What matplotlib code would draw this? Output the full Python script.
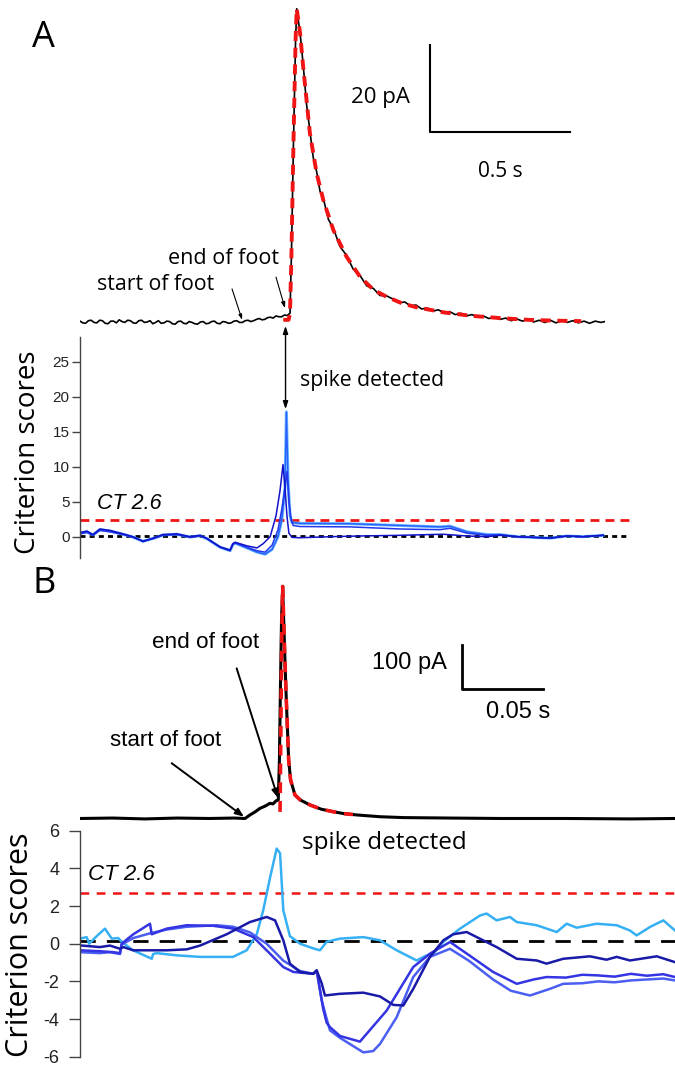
import matplotlib
matplotlib.use("Agg")
import matplotlib.pyplot as plt

plt.rcParams['font.family'] = ['Open Sans', 'DejaVu Sans']
plt.rcParams['axes.unicode_minus'] = False

# ---------------- Panel A : amperometric trace (s, pA) ----------------
t_a = [0.00, 0.01, 0.02, 0.03, 0.04, 0.05, 0.06, 0.07, 0.08, 0.09, 0.10, 0.11, 0.12,
       0.13, 0.14, 0.15, 0.16, 0.17, 0.18, 0.19, 0.20, 0.21, 0.22, 0.23, 0.24, 0.25,
       0.26, 0.27, 0.28, 0.29, 0.30, 0.31, 0.32, 0.33, 0.34, 0.35, 0.36, 0.37, 0.38,
       0.39, 0.40, 0.41, 0.42, 0.43, 0.44, 0.45, 0.46, 0.47, 0.48, 0.49, 0.50, 0.51,
       0.52, 0.53, 0.54, 0.55, 0.56, 0.57, 0.58, 0.59, 0.60, 0.61, 0.62, 0.63, 0.64,
       0.65, 0.66, 0.67, 0.68, 0.69, 0.70, 0.71, 0.72, 0.73, 0.74,
       0.75, 0.755, 0.762, 0.77, 0.774, 0.786, 0.797, 0.809, 0.821, 0.833, 0.845,
       0.857, 0.869, 0.887, 0.905, 0.928, 0.952, 0.976, 1.0, 1.024, 1.048, 1.071, 1.095,
       1.12, 1.14, 1.16, 1.18, 1.20, 1.22, 1.24, 1.26, 1.28, 1.30, 1.32, 1.34, 1.36,
       1.38, 1.40, 1.42, 1.44, 1.46, 1.48, 1.50, 1.52, 1.54, 1.56, 1.58, 1.60, 1.62,
       1.64, 1.66, 1.68, 1.70, 1.72, 1.74, 1.76, 1.78, 1.80, 1.82, 1.84, 1.86, 1.875]
i_a = [0.2, -0.2, -0.3, 0.3, 0.4, -0.1, -0.2, 0.4, 0.3, -0.3,
       -0.4, 0.2, 0.2, -0.2, 0.5, 0.1, -0.1, 0.4, 0.3, -0.2,
       -0.3, 0.3, 0.4, -0.1, 0.0, 0.3, -0.4, -0.1, 0.3, -0.3,
       -0.2, 0.2, 0.1, -0.4, -0.5, 0.1, 0.2, -0.3, -0.4, 0.1,
       -0.1, -0.4, -0.5, 0.0, 0.1, -0.4, -0.3, 0.1, 0.2, -0.3,
       -0.4, 0.1, 0.0, -0.3, -0.2, 0.2, 0.3, -0.1, -0.1, 0.3,
       0.4, 0.1, 0.3, 0.6, 0.8, 0.5, 0.6, 1.0, 1.1, 0.9,
       1.4, 1.2, 1.2, 1.6, 1.5,
       2.0, 15, 40, 65, 72, 66.4, 59.2, 50.1, 43.9, 37.8, 34.6, 30.1, 28.4, 23.6, 21.5,
       17.4, 15.3, 12.1, 10.7, 8.3, 7.7, 6.1, 6.0,
       5.2, 4.4, 4.6, 3.7, 3.9, 3.0, 3.2, 2.5, 2.8, 2.1, 2.4, 1.7, 2.0, 1.4, 1.7, 1.1,
       1.4, 0.8, 1.1, 0.6, 0.9, 0.3, 0.7, 0.2, 0.6, 0.0, 0.4, -0.1, 0.4, -0.2, 0.3, -0.1,
       0.3, -0.2, 0.2, -0.3, 0.2, -0.1, 0.1]
t_fit_a = [0.726, 0.745, 0.75, 0.755, 0.762, 0.77, 0.774, 0.786, 0.797, 0.821, 0.845,
           0.869, 0.905, 0.952, 1.0, 1.048, 1.095, 1.15, 1.2, 1.3, 1.4, 1.5, 1.6, 1.7, 1.79]
i_fit_a = [0.5, 0.5, 2.0, 15, 40, 65, 72, 66.4, 58.7, 43.4, 34.2, 28.0, 21.1, 15.0, 10.4,
           7.4, 5.8, 4.3, 3.4, 2.2, 1.4, 0.9, 0.5, 0.3, 0.2]

# Panel A : criterion scores
ts_a_dark = [0, 0.025, 0.046, 0.071, 0.107, 0.154, 0.189, 0.225, 0.261, 0.296, 0.346,
             0.393, 0.429, 0.454, 0.5, 0.536, 0.546, 0.554, 0.596, 0.632, 0.654, 0.679,
             0.7, 0.714, 0.725, 0.732, 0.739, 0.746, 0.757, 0.786, 0.893, 1.0, 1.143,
             1.296, 1.382, 1.454, 1.5, 1.561, 1.618, 1.679, 1.739, 1.796, 1.868]
cs_a_dark = [0.6, 0.8, 0.3, 1.1, 0.9, 0.4, 0.0, -0.7, -0.2, 0.3, 0.4, 0.0, 0.2, -0.25,
             -1.45, -1.9, -1.0, -0.8, -1.3, -1.6, -1.0, 0.0, 3.0, 6.5, 10.3, 7.0, 3.0,
             0.5, -0.1, -0.15, 0.0, 0.1, 0.2, 0.35, 0.1, 0.0, 0.2, 0.0, -0.1, -0.2, 0.1,
             0.0, 0.2]
ts_a_mid = [0, 0.025, 0.046, 0.071, 0.107, 0.154, 0.189, 0.225, 0.261, 0.296, 0.346,
            0.393, 0.429, 0.454, 0.5, 0.536, 0.546, 0.554, 0.596, 0.632, 0.661, 0.686,
            0.707, 0.721, 0.732, 0.739, 0.746, 0.754, 0.761, 0.786, 0.964, 1.143, 1.286,
            1.321, 1.382, 1.454, 1.5, 1.561, 1.618, 1.679, 1.739, 1.796, 1.868]
cs_a_mid = [0.4, 0.6, 0.2, 0.9, 0.7, 0.3, -0.1, -0.6, -0.3, 0.2, 0.3, -0.1, 0.1, -0.3,
            -1.5, -2.0, -1.1, -0.9, -1.5, -2.0, -2.2, -1.2, 1.0, 4.0, 7.0, 9.3, 5.0, 2.5,
            1.6, 1.45, 1.4, 1.1, 1.0, 1.2, 0.5, 0.2, 0.3, 0.0, -0.1, -0.2, 0.1, 0.0, 0.2]
ts_a_bright = [0, 0.025, 0.046, 0.071, 0.107, 0.154, 0.189, 0.225, 0.261, 0.296, 0.346,
               0.393, 0.429, 0.454, 0.5, 0.536, 0.546, 0.554, 0.596, 0.632, 0.661, 0.686,
               0.707, 0.721, 0.732, 0.737, 0.743, 0.75, 0.757, 0.786, 0.964, 1.143, 1.286,
               1.321, 1.382, 1.454, 1.5, 1.561, 1.618, 1.679, 1.739, 1.796, 1.868]
cs_a_bright = [0.5, 0.7, 0.25, 1.0, 0.8, 0.35, -0.05, -0.65, -0.25, 0.25, 0.35, -0.05,
               0.15, -0.3, -1.5, -2.0, -1.1, -0.9, -1.6, -2.2, -2.5, -1.8, 0.0, 2.5, 7.0,
               17.8, 8.0, 3.0, 2.0, 1.9, 1.85, 1.6, 1.4, 1.5, 0.7, 0.3, 0.3, 0.0, -0.1,
               -0.2, 0.1, 0.0, 0.2]
ct_a = 2.35
zero_a = 0.15

# ---------------- Panel B : amperometric trace (ms, pA) ----------------
t_b = [0, 20, 40, 60, 80, 95, 101.9, 104.9, 108, 111.1, 114.2, 117.3, 119.1, 121, 122.4,
       123.1, 123.8, 124.4, 125.1, 126.5, 127.2, 128, 128.8, 130, 132.7, 136, 142, 149,
       156.2, 163, 171, 185.2, 200, 228, 260, 300, 340, 367.3]
i_b = [0, 1, -1, 1, 0, 1, 0, 8, 14.8, 23, 28, 34.5, 33, 40, 42, 133, 315, 451, 527, 360,
       285, 209, 133, 87.5, 53.4, 42, 30.7, 21, 15.5, 11, 8, 4, 2, 1, 0, 0, -1, 0]
t_fit_b = [123.5, 124.0, 124.5, 125.1, 126.5, 127.2, 128, 128.8, 130, 132.7, 136, 142,
           149, 156.2, 163, 168.5]
i_fit_b = [15, 200, 400, 527, 360, 285, 209, 133, 87.5, 53.4, 42, 30.7, 21, 15.5, 11, 9]

# Panel B : criterion scores
ts_b_light = [0, 4.1, 5.7, 10.3, 15.4, 19.6, 23.6, 25.7, 32.7, 44.3, 45.1, 47.3, 60, 74.1,
              94.4, 102.9, 109.1, 113.1, 117.3, 121.4, 123.5, 125.5, 129.6, 135.8, 144,
              148.1, 152.3, 160.5, 174.9, 185.2, 195.5, 207.8, 214, 218.1, 224.3, 234.6,
              247, 251, 257.2, 265.4, 269.6, 281.9, 294.3, 300.4, 306.6, 318.9, 331.3,
              339.5, 343.6, 351.9, 360.1, 367.3]
cs_b_light = [0.27, 0.35, 0.0, 0.4, 0.8, 0.27, 0.3, 0.1, -0.35, -0.8, -0.55, -0.5, -0.62,
              -0.7, -0.7, -0.35, 0.5, 1.77, 3.5, 5.05, 4.8, 1.77, 0.4, 0.0, -0.25, -0.35,
              0.1, 0.27, 0.35, 0.18, -0.35, -0.89, -0.62, -0.53, 0.1, 0.8, 1.5, 1.6, 1.24,
              1.42, 1.15, 0.98, 0.62, 1.06, 0.85, 1.06, 0.98, 0.7, 0.44, 0.89, 1.24, 0.7]
ts_b_dark = [0, 12.3, 18.5, 24.7, 26.7, 32.9, 53.5, 65.9, 74.1, 90.5, 104.9, 115.2, 120.4,
             125.5, 129.6, 135.8, 144, 146.1, 149.2, 151.2, 160.5, 174.9, 185.2, 193.4,
             199.6, 205.7, 216, 224.3, 230.4, 238.7, 244.9, 257.2, 269.6, 281.9, 288,
             298.3, 314.8, 325, 331.3, 339.5, 356, 367.3]
cs_b_dark = [-0.09, -0.18, -0.1, -0.27, -0.18, -0.35, -0.35, -0.3, -0.1, 0.5, 1.15, 1.42,
             1.24, 0.18, -1.06, -1.5, -1.6, -1.42, -2.1, -2.75, -2.66, -2.6, -2.8, -3.25,
             -3.28, -2.4, -0.7, 0.18, 0.5, 0.62, 0.35, -0.18, -0.8, -0.89, -1.06, -0.8,
             -0.67, -0.85, -0.7, -0.89, -0.67, -0.98]
ts_b_mid1 = [0, 12.3, 20.4, 24.7, 25.7, 32.9, 43.2, 44.3, 53.5, 65.9, 82.3, 94.6, 107,
             115.2, 125.5, 131.7, 144, 146.1, 150.2, 152.3, 154.3, 160.5, 172.8, 189.3,
             205.7, 216, 228.4, 240, 255, 269.6, 280, 288, 300, 310, 319, 330, 340, 350,
             360, 367.3]
cs_b_mid1 = [-0.35, -0.4, -0.45, -0.5, 0.0, 0.5, 1.06, 0.5, 0.8, 0.98, 0.95, 0.8, 0.35,
             -0.35, -1.24, -1.5, -1.6, -1.42, -3.5, -4.2, -4.43, -4.9, -5.2, -3.55, -1.24,
             -0.53, 0.09, -0.6, -1.5, -2.13, -1.9, -1.77, -1.8, -1.65, -1.68, -1.75, -1.6,
             -1.7, -1.62, -1.77]
ts_b_mid2 = [0, 12.3, 18.5, 24.7, 25.7, 32.9, 43.2, 53.5, 65.9, 84.4, 94.6, 104.9, 115.2,
             125.5, 135.8, 144, 146.1, 149.2, 152.3, 154.3, 160.5, 174.9, 181, 185.2,
             195.5, 205.7, 216, 228.4, 240, 255, 266, 277.8, 290, 298.3, 310, 320, 330,
             340, 350, 360, 367.3]
cs_b_mid2 = [-0.45, -0.5, -0.45, -0.55, -0.05, 0.3, 0.55, 0.75, 0.9, 0.98, 0.9, 0.6, 0.0,
             -0.9, -1.45, -1.6, -1.42, -3.0, -4.0, -4.6, -5.0, -5.77, -5.7, -5.32, -3.9,
             -1.77, -0.7, -0.27, -0.9, -1.9, -2.5, -2.75, -2.4, -2.13, -2.1, -2.0, -2.05,
             -1.95, -1.9, -1.85, -1.95]
ct_b = 2.69
zero_b = 0.14

W, H = 675, 1067
fig = plt.figure(figsize=(W / 100, H / 100), dpi=100)


def box(x0, y0, x1, y1):
    return [x0 / W, 1 - y1 / H, (x1 - x0) / W, (y1 - y0) / H]


def score_axis(ax, ticks, fs, tlen, pad, font):
    for s in ['top', 'right', 'bottom']:
        ax.spines[s].set_visible(False)
    ax.spines['left'].set_color('#444444')
    ax.spines['left'].set_linewidth(1.0)
    ax.set_xticks([])
    ax.set_yticks(ticks)
    ax.tick_params(axis='y', length=tlen, width=1.0, color='#444444', labelsize=fs,
                   labelcolor='#222222', pad=pad)
    for lab in ax.get_yticklabels():
        lab.set_family(font)
    ax.patch.set_alpha(0)


red = '#f01414'
fb = ['Liberation Sans', 'DejaVu Sans']

# ---- A trace ----
ax_a = fig.add_axes(box(80, 0, 605, 330))
ax_a.set_xlim(0, 1.875)
ax_a.set_ylim(-1.84, 74.0)
ax_a.axis('off')
ax_a.plot(t_a, i_a, color='black', lw=1.2)
ax_a.plot(t_fit_a, i_fit_a, color=red, lw=2.8, ls=(0, (2.6, 1.7)))
ax_a.plot([1.25, 1.25, 1.75], [63.7, 43.7, 43.7], color='black', lw=1.5, clip_on=False)
ax_a.text(1.18, 51.7, '20 pA', ha='right', va='center', fontsize=16)
ax_a.text(1.5, 34.5, '0.5 s', ha='center', va='center', fontsize=15)
ax_a.text(-0.129, 65.3, 'A', ha='center', va='center', fontsize=26)
ax_a.text(0.271, 8.7, 'start of foot', ha='center', va='center', fontsize=15.3)
ax_a.text(0.514, 14.7, 'end of foot', ha='center', va='center', fontsize=15.5)
ax_a.annotate('', xy=(0.579, 0.5), xytext=(0.543, 7.6),
              arrowprops=dict(arrowstyle='-|>,head_length=0.3,head_width=0.1', lw=0.8,
                              color='black', shrinkA=0, shrinkB=0))
ax_a.annotate('', xy=(0.732, 3.2), xytext=(0.7, 10.3),
              arrowprops=dict(arrowstyle='-|>,head_length=0.35,head_width=0.12', lw=0.8,
                              color='black', shrinkA=0, shrinkB=0))

# ---- A scores ----
ax_sa = fig.add_axes(box(80, 337, 630, 558))
ax_sa.set_xlim(0, 1.964)
ax_sa.set_ylim(-3.04, 28.5)
score_axis(ax_sa, [0, 5, 10, 15, 20, 25], 11, 6, 1.5, fb)
ax_sa.axhline(ct_a, color=red, lw=2.0, ls=(0, (3.2, 2.2)))
ax_sa.axhline(zero_a, color='black', lw=2.0, ls=(0, (1.8, 1.5)))
ax_sa.plot(ts_a_bright, cs_a_bright, color='#38a8ff', lw=2.2, alpha=0.7)
ax_sa.plot(ts_a_bright, cs_a_bright, color='#2a62ff', lw=1.1)
ax_sa.plot(ts_a_mid, cs_a_mid, color='#2438ee', lw=1.1)
ax_sa.plot(ts_a_dark, cs_a_dark, color='#1212c8', lw=1.1)
ax_sa.text(0.06, 4.8, 'CT 2.6', fontsize=15.5, style='italic', va='center', family=fb)
ax_sa.text(0.786, 22.3, 'spike detected', fontsize=15.3, va='center')
ax_sa.annotate('', xy=(0.734, 18.2), xycoords=ax_sa.transData,
               xytext=(0.734, -0.9), textcoords=ax_a.transData,
               arrowprops=dict(arrowstyle='<|-|>,head_length=0.45,head_width=0.15',
                               lw=1.0, color='black', shrinkA=0, shrinkB=0))
fig.text(28 / W, 1 - 452 / H, 'Criterion scores', rotation=90, ha='center',
         va='center', fontsize=20)

# ---- B trace ----
ax_b = fig.add_axes(box(80, 575, 675, 825))
ax_b.set_xlim(0, 367.3)
ax_b.set_ylim(-14.8, 553)
ax_b.axis('off')
ax_b.plot(t_b, i_b, color='black', lw=2.2)
ax_b.plot(t_fit_b, i_fit_b, color=red, lw=2.6, ls=(0, (3.0, 2.2)))
ax_b.plot([235.6, 235.6, 285.6], [394, 294, 294], color='black', lw=2.0, clip_on=False)
ax_b.text(226.5, 353, '100 pA', ha='right', va='center', fontsize=17, family=fb)
ax_b.text(270.7, 242, '0.05 s', ha='center', va='center', fontsize=17, family=fb)
ax_b.text(-22.2, 532, 'B', ha='center', va='center', fontsize=26)
ax_b.text(77.8, 399, 'end of foot', ha='center', va='center', fontsize=16.2, family=fb)
ax_b.text(53.1, 178, 'start of foot', ha='center', va='center', fontsize=16, family=fb)
ax_b.annotate('', xy=(122.2, 46.6), xytext=(96.7, 341),
              arrowprops=dict(arrowstyle='-|>,head_length=0.5,head_width=0.2', lw=1.4,
                              color='black', shrinkA=0, shrinkB=0))
ax_b.annotate('', xy=(101.2, 4.1), xytext=(56.6, 125.5),
              arrowprops=dict(arrowstyle='-|>,head_length=0.5,head_width=0.2', lw=1.4,
                              color='black', shrinkA=0, shrinkB=0))

# ---- B scores ----
ax_sb = fig.add_axes(box(80, 830.7, 675, 1056.7))
ax_sb.set_xlim(0, 367.3)
ax_sb.set_ylim(-6, 6)
score_axis(ax_sb, [-6, -4, -2, 0, 2, 4, 6], 13, 8, 7, fb)
ax_sb.axhline(ct_b, color=red, lw=1.8, ls=(0, (3.5, 3.0)))
ax_sb.axhline(zero_b, color='black', lw=2.0, ls=(0, (5.5, 4.0)))
ax_sb.plot(ts_b_light, cs_b_light, color='#36b0f4', lw=1.8)
ax_sb.plot(ts_b_mid2, cs_b_mid2, color='#4a5ef2', lw=1.8)
ax_sb.plot(ts_b_mid1, cs_b_mid1, color='#3434e2', lw=1.8)
ax_sb.plot(ts_b_dark, cs_b_dark, color='#1a1aa8', lw=1.8)
ax_sb.text(4.9, 3.67, 'CT 2.6', fontsize=16, style='italic', va='center', family=fb)
ax_sb.text(137, 5.33, 'spike detected', fontsize=17.5, va='center')
fig.text(20 / W, 1 - 945 / H, 'Criterion scores', rotation=90, ha='center',
         va='center', fontsize=22)

fig.savefig('out.png', dpi=100)
